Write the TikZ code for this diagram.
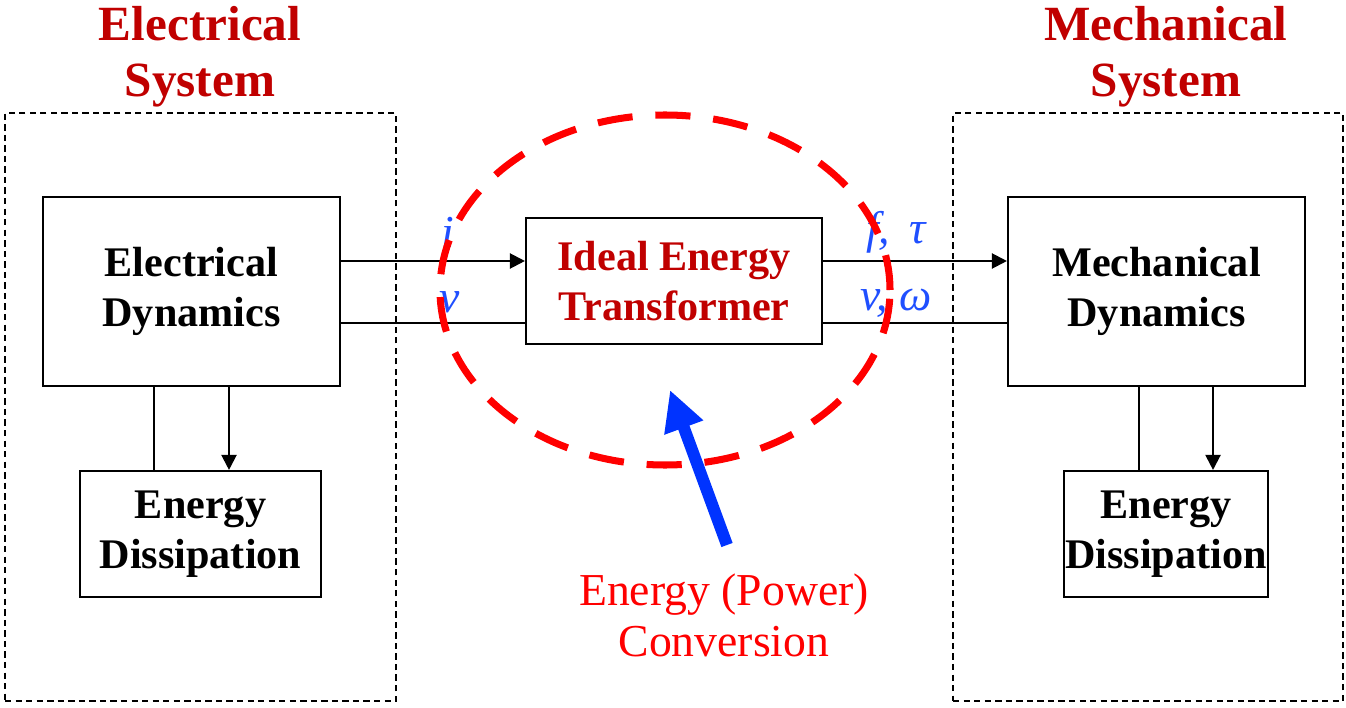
\documentclass[tikz,border=0pt]{standalone}
\usepackage{fontspec}
\setmainfont{Liberation Serif}
\usetikzlibrary{arrows.meta}
\definecolor{titlered}{HTML}{C00000}
\definecolor{linkblue}{HTML}{1F4FFF}
\definecolor{pushblue}{HTML}{0033FF}

\begin{document}
\begin{tikzpicture}[font=\fontsize{12}{14.2}\selectfont\bfseries,
    sysbox/.style={draw,line width=.4pt,dash pattern=on 1.8pt off 1.2pt},
    block/.style={draw,line width=.6pt,align=center,inner sep=0pt},
    heading/.style={align=center,text=titlered,font=\fontsize{14}{16}\selectfont\bfseries},
    sig/.style={text=linkblue,font=\fontsize{13}{15}\selectfont\itshape},
    link/.style={line width=.6pt},
    flow/.style={link,-{Triangle[length=4.3pt,width=4.3pt]}},
    hot/.style={draw=red,line width=2pt,dash pattern=on 10pt off 6.5pt},
    push/.style={draw=pushblue,line width=3.4pt,-{Triangle[length=11.4pt,width=11pt]}}]
    \useasboundingbox (0,0) rectangle (13.46,7.07);

    \node[sysbox,minimum width=3.91cm,minimum height=5.88cm] (elec) at (2.005,3.0) {};
    \node[sysbox,minimum width=3.90cm,minimum height=5.88cm] (mech) at (11.48,3.0) {};
    \node[heading] (electitle) at (2.0,6.50) {Electrical\\System};
    \node[heading] (mechtitle) at (11.66,6.50) {Mechanical\\System};

    \node[block,minimum width=2.97cm,minimum height=1.89cm] (edyn) at (1.915,4.155) {Electrical\\Dynamics};
    \node[block,minimum width=2.41cm,minimum height=1.26cm] (edis) at (2.005,1.73) {Energy\\Dissipation};
    \node[block,minimum width=2.96cm,minimum height=1.26cm,text=titlered] (ideal) at (6.74,4.26) {Ideal Energy\\Transformer};
    \node[block,minimum width=2.97cm,minimum height=1.89cm] (mdyn) at (11.565,4.155) {Mechanical\\Dynamics};
    \node[block,text width=2.04cm,minimum height=1.26cm] (mdis) at (11.66,1.73) {Energy\\Dissipation};

    \draw[flow] (edyn.east |- 0,4.46) -- (ideal.west |- 0,4.46);
    \draw[link] (edyn.east |- 0,3.84) -- (ideal.west |- 0,3.84);
    \draw[flow] (ideal.east |- 0,4.46) -- (mdyn.west |- 0,4.46);
    \draw[link] (ideal.east |- 0,3.84) -- (mdyn.west |- 0,3.84);
    \draw[link] (edyn.south -| 1.54,0) -- (edis.north -| 1.54,0);
    \draw[flow] (edyn.south -| 2.29,0) -- (edis.north -| 2.29,0);
    \draw[link] (mdyn.south -| 11.39,0) -- (mdis.north -| 11.39,0);
    \draw[flow] (mdyn.south -| 12.13,0) -- (mdis.north -| 12.13,0);

    \node[sig] (cur) at (4.48,4.75) {i};
    \node[sig] (volt) at (4.50,4.05) {v};
    \node[sig] (force) at (8.96,4.75) {f, \,τ};
    \node[sig] (speed) at (8.96,4.04) {v, ω};

    \draw[hot] (6.65,4.17) ellipse [x radius=2.25, y radius=1.75];
    \node[text=red,align=center,font=\fontsize{13}{14.5}\selectfont] (conv) at (7.24,0.92) {Energy (Power)\\Conversion};
    \coordinate (tail) at (7.27,1.62);
    \coordinate (tip) at (6.70,3.17);
    \draw[push] (tail) -- (tip);
  \end{tikzpicture}
\end{document}
